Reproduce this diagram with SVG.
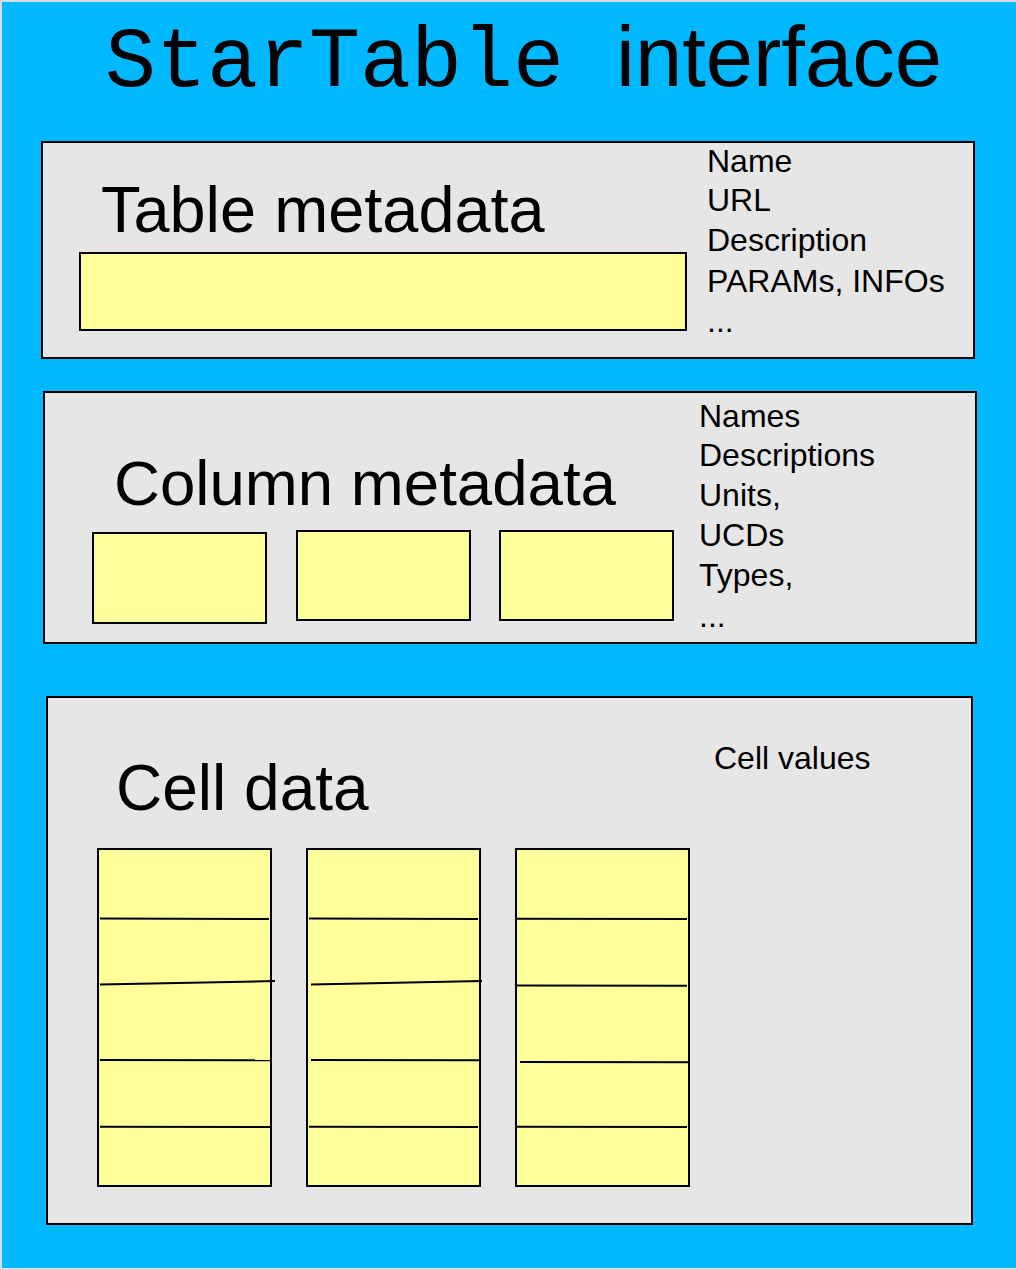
<svg xmlns="http://www.w3.org/2000/svg" width="1016" height="1270" viewBox="0 0 1016 1270">
<style>
.panel{fill:#e6e6e6;stroke:#000;stroke-width:2}
.cell{fill:#ffff99;stroke:#000;stroke-width:2}
.rule{stroke:#000;stroke-width:2;fill:none}
.big{font-family:"Liberation Sans",Arial,sans-serif;font-size:64px;fill:#000}
.small{font-family:"Liberation Sans",Arial,sans-serif;font-size:32px;fill:#000}
</style>
<rect x="0" y="0" width="1016" height="1270" fill="#dcdcdc"/>
<rect x="2" y="2" width="1014" height="1266" fill="#00b8ff"/>
<g id="title">
<text x="105" y="86" font-family="'Liberation Mono','Courier New',monospace" font-size="85" fill="#000">StarTable</text>
<text x="616" y="86" font-family="'Liberation Sans',Arial,sans-serif" font-size="85" fill="#000">interface</text>
</g>
<g id="table-metadata">
<rect class="panel" x="42" y="142" width="932" height="216"/>
<text class="big" x="101" y="232" style="font-size:64.9px">Table metadata</text>
<rect class="cell" x="80" y="253" width="606" height="77"/>
<text class="small" x="707" y="172">Name</text>
<text class="small" x="707" y="211">URL</text>
<text class="small" x="707" y="251">Description</text>
<text class="small" x="707" y="292">PARAMs, INFOs</text>
<text class="small" x="707" y="332">...</text>
</g>
<g id="column-metadata">
<rect class="panel" x="44" y="392" width="932" height="251"/>
<text class="big" x="114" y="505" style="font-size:63.6px">Column metadata</text>
<rect class="cell" x="93" y="533" width="173" height="90"/>
<rect class="cell" x="297" y="531" width="173" height="89"/>
<rect class="cell" x="500" y="531" width="173" height="89"/>
<text class="small" x="699" y="427">Names</text>
<text class="small" x="699" y="466">Descriptions</text>
<text class="small" x="699" y="506">Units,</text>
<text class="small" x="699" y="546">UCDs</text>
<text class="small" x="699" y="586">Types,</text>
<text class="small" x="699" y="627">...</text>
</g>
<g id="cell-data">
<rect class="panel" x="47" y="697" width="925" height="527"/>
<text class="big" x="116" y="810">Cell data</text>
<text class="small" x="714" y="769">Cell values</text>
<rect class="cell" x="98" y="849" width="173" height="337"/>
<rect class="cell" x="307" y="849" width="173" height="337"/>
<rect class="cell" x="516" y="849" width="173" height="337"/>
</g>
<g id="connectors">
<line class="rule" x1="100" y1="918.5" x2="269" y2="919"/>
<line class="rule" x1="100" y1="984.5" x2="275" y2="981"/>
<line class="rule" x1="100" y1="1060" x2="271" y2="1060.3"/>
<line class="rule" x1="100" y1="1126.7" x2="271" y2="1127"/>
<line class="rule" x1="309" y1="918.5" x2="478" y2="919"/>
<line class="rule" x1="311" y1="984.5" x2="482" y2="981"/>
<line class="rule" x1="311" y1="1060" x2="479" y2="1060.3"/>
<line class="rule" x1="309" y1="1126.7" x2="478" y2="1127"/>
<line class="rule" x1="517" y1="918.8" x2="687" y2="919"/>
<line class="rule" x1="517" y1="985.5" x2="687" y2="985.8"/>
<line class="rule" x1="520" y1="1062" x2="689" y2="1062.3"/>
<line class="rule" x1="517" y1="1126.8" x2="687" y2="1127"/>
</g>
</svg>
